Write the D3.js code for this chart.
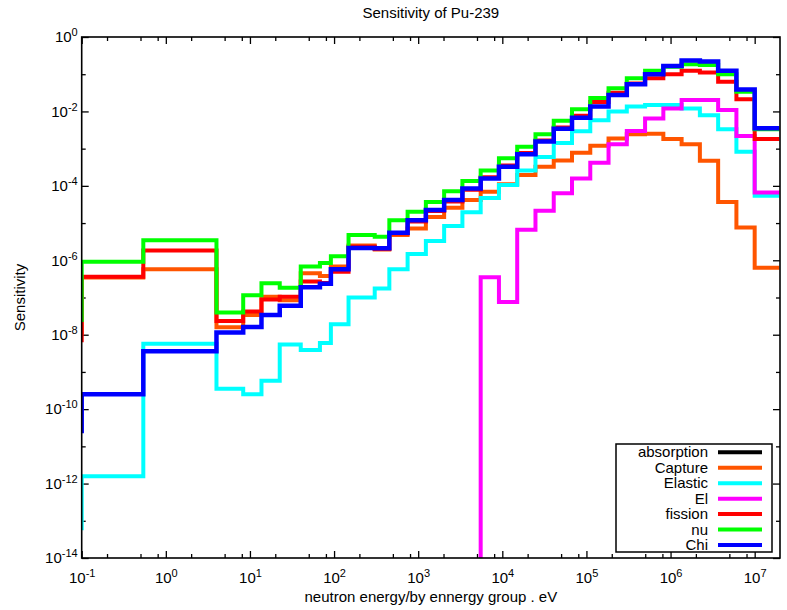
<!DOCTYPE html>
<html>
<head>
<meta charset="utf-8">
<script src="https://cdn.jsdelivr.net/npm/d3@7"></script>
<style>
  html, body { margin: 0; padding: 0; background: #fff; }
  svg { display: block; font-family: "Liberation Sans", Arial, Helvetica, sans-serif; }
</style>
</head>
<body>
<svg id="chart" width="787" height="610"></svg>
<script>
// ECCO 33-group upper energy boundaries (eV), first point = thermal group at 0.1 eV
const groupUpper = [0.1, 0.54, 4.0, 8.3153, 13.710, 22.603, 40.169, 67.904, 91.661, 148.63,
  304.32, 454.00, 748.52, 1234.1, 2034.7, 3354.6, 5530.8, 9118.8, 15034, 24788,
  40868, 67379, 111090, 183160, 301970, 497870, 820850, 1353400, 2231300, 3678800,
  6065300, 1.0e7, 1.964e7];

const seriesNames = ["absorption", "Capture", "Elastic", "El", "fission", "nu", "Chi"];
const seriesColors = ["#000000", "#ff5500", "#00ffff", "#ff00ff", "#ff0000", "#00ff00", "#0000ff"];

const absorption = [];  // not visible in the picture
const capture = [1.0e-8, 3.47e-7, 5.75e-7, 1.58e-8, 3.4e-8, 1.05e-7, 8.5e-8, 4.5e-7, 3.8e-7, 6.8e-7,
  2.5e-6, 1.95e-6, 4.8e-6, 7.2e-6, 1.45e-5, 2.6e-5, 4.2e-5, 6.9e-5, 1.1e-4, 1.95e-4,
  3.24e-4, 4.8e-4, 7.8e-4, 1.2e-3, 1.86e-3, 2.45e-3, 2.5e-3, 1.82e-3, 1.32e-3, 4.7e-4,
  3.7e-5, 7.6e-6, 6.3e-7];
const elastic = [5.6e-14, 1.58e-12, 5.75e-9, 3.55e-10, 2.5e-10, 5.75e-10, 5.5e-9, 3.9e-9, 6.0e-9, 1.9e-8,
  1.0e-7, 1.74e-7, 5.75e-7, 1.48e-6, 3.3e-6, 8.3e-6, 1.95e-5, 4.7e-5, 1.05e-4, 2.6e-4,
  6.0e-4, 1.41e-3, 2.95e-3, 5.75e-3, 1.0e-2, 1.35e-2, 1.48e-2, 1.48e-2, 1.2e-2, 7.9e-3,
  3.3e-3, 8.3e-4, 5.4e-5];
const el = [0, 0, 0, 0, 0, 0, 0, 0, 0, 0,
  0, 0, 0, 0, 0, 0, 0, 3.5e-7, 7.6e-8, 6.6e-6,
  2.14e-5, 6.3e-5, 1.58e-4, 4.2e-4, 1.32e-3, 3.0e-3, 6.5e-3, 1.2e-2, 2.04e-2, 2.04e-2,
  1.1e-2, 2.2e-3, 6.6e-5];
const fission = [6.3e-9, 3.6e-7, 1.82e-6, 2.34e-8, 4.2e-8, 8.9e-8, 1.05e-7, 2.7e-7, 2.45e-7, 4.9e-7,
  2.3e-6, 2.0e-6, 5.25e-6, 1.1e-5, 2.1e-5, 3.8e-5, 7.9e-5, 1.7e-4, 3.55e-4, 7.6e-4,
  1.66e-3, 3.7e-3, 7.6e-3, 1.78e-2, 3.16e-2, 5.6e-2, 7.8e-2, 0.100, 0.123, 0.112,
  0.063, 0.0214, 1.82e-3];
const nu = [2.19e-8, 9.1e-7, 3.47e-6, 3.98e-8, 1.15e-7, 2.4e-7, 1.82e-7, 6.8e-7, 8.5e-7, 1.29e-6,
  4.8e-6, 4.3e-6, 1.2e-5, 2.0e-5, 3.7e-5, 7.2e-5, 1.35e-4, 2.6e-4, 5.5e-4, 1.12e-3,
  2.45e-3, 5.6e-3, 1.15e-2, 2.3e-2, 4.2e-2, 7.8e-2, 0.123, 0.158, 0.186, 0.178,
  0.100, 0.0339, 3.3e-3];
const chi = [2.24e-11, 2.5e-10, 3.6e-9, 1.15e-8, 1.62e-8, 3.4e-8, 6.0e-8, 1.9e-7, 2.34e-7, 5.75e-7,
  2.14e-6, 2.09e-6, 5.5e-6, 1.2e-5, 2.24e-5, 4.2e-5, 8.5e-5, 1.58e-4, 3.24e-4, 7.1e-4,
  1.55e-3, 3.4e-3, 6.8e-3, 1.35e-2, 2.75e-2, 5.4e-2, 0.100, 0.166, 0.234, 0.219,
  0.123, 0.0389, 3.55e-3];

const seriesValues = [absorption, capture, elastic, el, fission, nu, chi];

const xTickExps = [-1, 0, 1, 2, 3, 4, 5, 6, 7];
const yTickExps = [0, -2, -4, -6, -8, -10, -12, -14];
const xMinorMult = [2, 5, 8];

const svg = d3.select("#chart");
const m = { left: 81.7, right: 780, top: 37, bottom: 558 };

const x = d3.scaleLog().domain([0.1, 2e7]).range([m.left, m.right]);
const y = d3.scaleLog().domain([1e-14, 1]).range([m.bottom, m.top]);
const yFloor = 1e-16;

svg.append("defs").append("clipPath").attr("id", "plotclip")
  .append("rect").attr("x", m.left).attr("y", m.top)
  .attr("width", m.right - m.left).attr("height", m.bottom - m.top);

// minor tick values
const xMinor = [];
xTickExps.forEach(e => xMinorMult.forEach(k => {
  const v = k * Math.pow(10, e);
  if (v > 0.1 && v < 2e7) xMinor.push(v);
}));
const yMinor = [];
for (let e = -13; e <= -1; e += 2) yMinor.push(Math.pow(10, e));

function supLabel(sel, fmtExp) {
  sel.each(function (d) {
    const t = d3.select(this);
    t.text(null);
    t.append("tspan").text("10");
    t.append("tspan").attr("dy", -6).attr("font-size", 11).text(fmtExp(d));
  });
}
const expOf = d => String(Math.round(Math.log10(d)));

// bottom axis major
const gxb = svg.append("g").attr("transform", `translate(0,${m.bottom})`)
  .call(d3.axisBottom(x).tickValues(xTickExps.map(e => Math.pow(10, e)))
    .tickSizeInner(-7).tickSizeOuter(0).tickPadding(14).tickFormat(d => d));
gxb.selectAll(".tick text").attr("font-size", 15).attr("fill", "#000").call(supLabel, expOf);
svg.append("g").attr("transform", `translate(0,${m.bottom})`)
  .call(d3.axisBottom(x).tickValues(xMinor).tickSizeInner(-4).tickSizeOuter(0).tickFormat(""));
// top axis mirror
svg.append("g").attr("transform", `translate(0,${m.top})`)
  .call(d3.axisTop(x).tickValues(xTickExps.map(e => Math.pow(10, e))).tickSizeInner(-7).tickSizeOuter(0).tickFormat(""));
svg.append("g").attr("transform", `translate(0,${m.top})`)
  .call(d3.axisTop(x).tickValues(xMinor).tickSizeInner(-4).tickSizeOuter(0).tickFormat(""));

// left axis
const gyl = svg.append("g").attr("transform", `translate(${m.left - 4},0)`)
  .call(d3.axisLeft(y).tickValues(yTickExps.map(e => Math.pow(10, e)))
    .tickSize(0).tickPadding(0).tickFormat(d => d));
gyl.selectAll(".tick text").attr("font-size", 15).attr("fill", "#000").call(supLabel, expOf);
gyl.select(".domain").remove();
svg.append("g").attr("transform", `translate(${m.left},0)`)
  .call(d3.axisLeft(y).tickValues(yTickExps.map(e => Math.pow(10, e))).tickSizeInner(-7).tickSizeOuter(0).tickFormat(""));
svg.append("g").attr("transform", `translate(${m.left},0)`)
  .call(d3.axisLeft(y).tickValues(yMinor).tickSizeInner(-4).tickSizeOuter(0).tickFormat(""));
// right axis mirror
svg.append("g").attr("transform", `translate(${m.right},0)`)
  .call(d3.axisRight(y).tickValues(yTickExps.map(e => Math.pow(10, e))).tickSizeInner(-7).tickSizeOuter(0).tickFormat(""));
svg.append("g").attr("transform", `translate(${m.right},0)`)
  .call(d3.axisRight(y).tickValues(yMinor).tickSizeInner(-4).tickSizeOuter(0).tickFormat(""));

svg.selectAll(".domain").remove();
svg.selectAll(".tick line").attr("stroke", "#000").attr("stroke-width", 1.3);

// series
const line = d3.line()
  .x(d => x(d[0]))
  .y(d => y(Math.max(d[1], yFloor)))
  .curve(d3.curveStepBefore);

const plot = svg.append("g").attr("clip-path", "url(#plotclip)");
seriesValues.forEach((vals, i) => {
  if (!vals.length) return;
  const pts = vals.map((v, j) => [groupUpper[j], v]);
  plot.append("path")
    .attr("d", line(pts))
    .attr("fill", "none")
    .attr("stroke", seriesColors[i])
    .attr("stroke-width", i === 6 ? 4.5 : 4)
    .attr("stroke-linejoin", "miter");
});

// frame
svg.append("rect").attr("x", m.left).attr("y", m.top)
  .attr("width", m.right - m.left).attr("height", m.bottom - m.top)
  .attr("fill", "none").attr("stroke", "#000").attr("stroke-width", 1.6);

// title and axis labels
svg.append("text").attr("x", (m.left + m.right) / 2).attr("y", 18)
  .attr("text-anchor", "middle").attr("font-size", 15).text("Sensitivity of Pu-239");
svg.append("text").attr("x", (m.left + m.right) / 2).attr("y", 602)
  .attr("text-anchor", "middle").attr("font-size", 15).text("neutron energy/by ennergy group . eV");
svg.append("text").attr("transform", `translate(25,${(m.top + m.bottom) / 2}) rotate(-90)`)
  .attr("text-anchor", "middle").attr("font-size", 15).text("Sensitivity");

// legend
const lg = svg.append("g");
lg.append("rect").attr("x", 616).attr("y", 444).attr("width", 156).attr("height", 108)
  .attr("fill", "#fff").attr("stroke", "#000").attr("stroke-width", 1.5);
seriesNames.forEach((name, i) => {
  const cy = 452.3 + i * 15.45;
  lg.append("text").attr("x", 708).attr("y", cy + 5).attr("text-anchor", "end")
    .attr("font-size", 15).text(name);
  lg.append("line").attr("x1", 718).attr("x2", 762).attr("y1", cy).attr("y2", cy)
    .attr("stroke", seriesColors[i]).attr("stroke-width", 4);
});
</script>
</body>
</html>
